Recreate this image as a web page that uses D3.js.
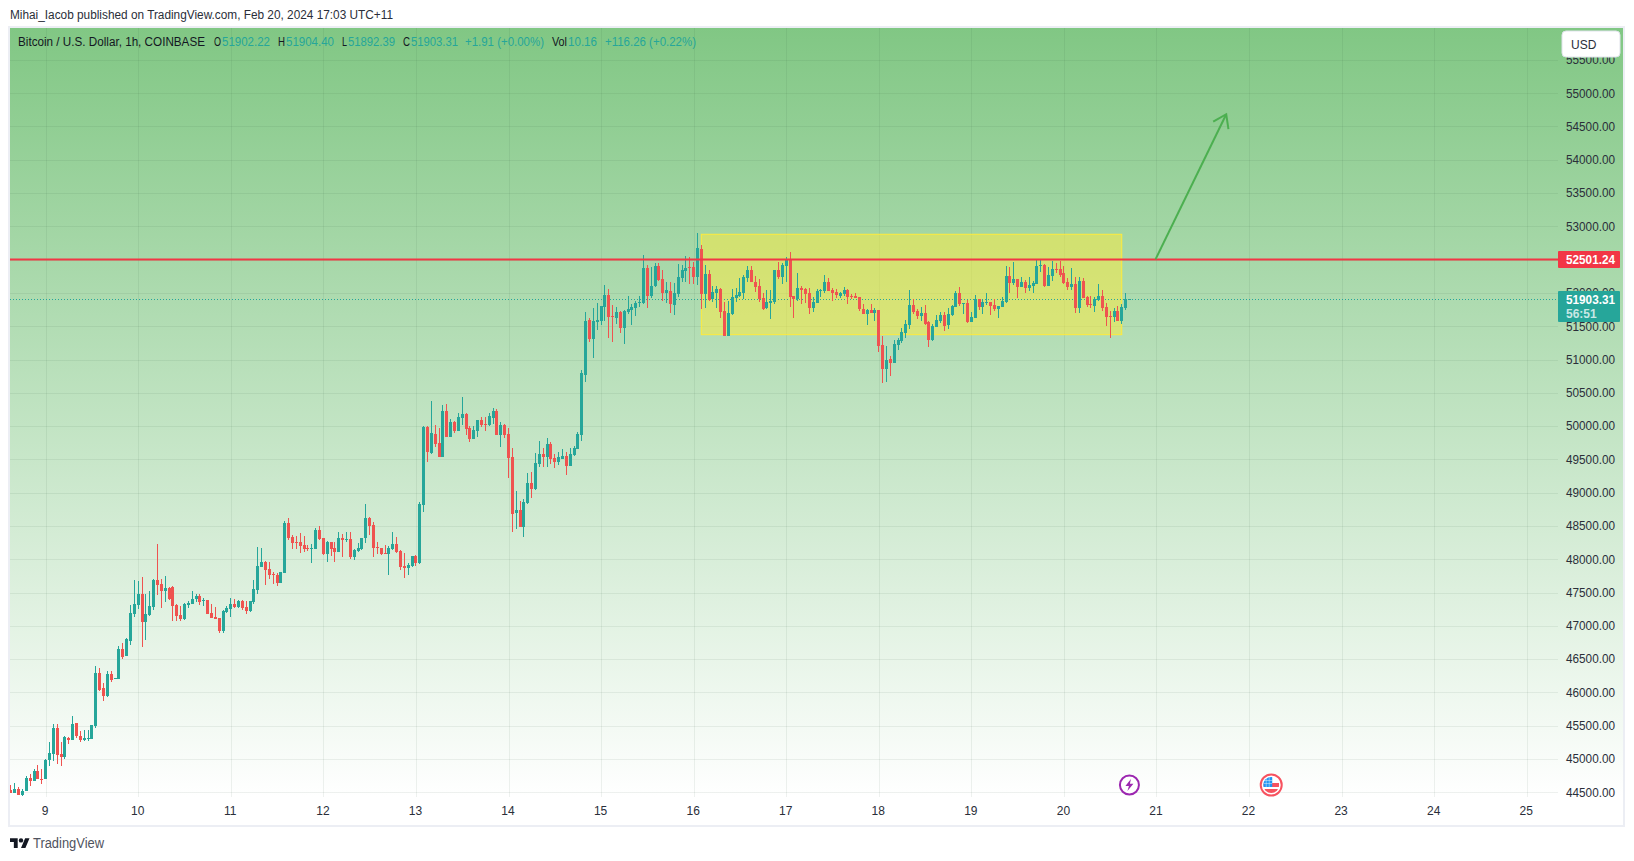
<!DOCTYPE html>
<html>
<head>
<meta charset="utf-8">
<script src="https://cdn.jsdelivr.net/npm/d3@7"></script>
<style>
  body { margin: 0; background: #fff; }
  svg { display: block; }
  text { font-family: "Liberation Sans", Arial, sans-serif; }
</style>
</head>
<body>
<svg id="chart" width="1634" height="861"></svg>
<script>
'use strict';

// hourly candles. first bar is 9 hours before the "9" tick
const opens = [
  44540,44485,44550,44465,44515,44715,44675,44825,44700,44695,
  44980,45080,45470,45075,45035,45315,45290,45540,45350,45280,
  45310,45305,45500,46295,46070,45945,46275,46200,46205,46655,
  46540,46775,47180,47315,47480,47065,47165,47290,47690,47630,
  47525,47575,47585,47315,47165,47105,47320,47330,47410,47450,
  47370,47385,47190,47135,47120,46925,47210,47255,47325,47280,
  47375,47285,47225,47360,47540,47890,47965,47855,47780,47765,
  47645,47795,48545,48340,48260,48260,48215,48165,48160,48155,
  48440,48320,48080,48260,48170,48110,48320,48290,48305,48035,
  48125,48155,48320,48620,48515,48185,48170,48095,48085,48155,
  48230,48130,47900,47870,47900,48050,47945,48820,49990,49600,
  49885,49750,49540,50230,49840,50065,49930,50125,50185,49975,
  49810,49930,50095,50035,50020,50125,50230,49870,50020,49885,
  49540,48700,48745,48490,48850,49150,49060,49435,49585,49540,
  49735,49525,49465,49510,49555,49405,49570,49660,49870,50770,
  51595,51310,51565,51580,51790,51970,51655,51625,51715,51475,
  51715,51745,51775,51850,51850,52381,51956,52111,52411,52211,
  52006,52031,51821,51986,52231,52331,52391,52391,52241,52661,
  51986,52286,51911,52001,52061,51731,51356,51686,51926,51956,
  52001,52226,52346,52166,52106,51926,51776,51851,51866,52346,
  52241,52406,52511,51956,51911,52076,52061,51999,51776,51851,
  52031,52031,52166,52046,52016,51956,51986,52046,51951,51956,
  51941,51761,51686,51746,51701,51746,51221,50861,51011,50951,
  51221,51281,51401,51521,51821,51731,51656,51701,51566,51296,
  51491,51581,51671,51521,51671,51791,52001,51836,51851,51566,
  51626,51911,51791,51851,51866,51821,51761,51791,51866,52256,
  52151,52211,52091,52166,52076,52106,52136,52406,52421,52106,
  52256,52361,52361,52301,52166,52091,52136,51776,52181,51941,
  51836,51806,51896,51956,51791,51656,51641,51731,51581,51776,51902.22
];
const highs = [
  44615,44640,44580,44555,44750,44780,44855,44915,44850,45005,
  45260,45520,45530,45260,45340,45330,45650,45540,45415,45430,
  45440,45515,46400,46365,46140,46315,46315,46215,46690,46740,
  46820,47310,47690,47680,47730,47480,47525,47705,48230,47705,
  47750,47585,47600,47330,47300,47340,47380,47525,47485,47475,
  47415,47390,47330,47280,47125,47240,47300,47420,47400,47390,
  47390,47370,47380,47690,48185,48170,47975,47960,47810,47800,
  47810,48575,48620,48365,48350,48395,48350,48215,48230,48470,
  48500,48325,48275,48260,48260,48410,48380,48410,48405,48155,
  48245,48320,48830,48635,48560,48260,48170,48215,48200,48410,
  48335,48140,48095,47945,48050,48065,48860,50005,50005,50380,
  50020,49975,50320,50335,50110,50080,50200,50440,50200,50005,
  50005,50095,50140,50140,50200,50275,50260,50065,50035,49975,
  49675,49030,48880,48910,49300,49315,49600,49780,49675,49825,
  49765,49585,49615,49660,49615,49675,49705,49915,50845,51715,
  51625,51775,51850,51805,52120,52060,51820,51790,51730,51745,
  51955,51835,51880,51955,52571,52420,52396,52446,52446,52346,
  52171,52161,52146,52431,52421,52556,52541,52466,52901,52721,
  52421,52346,52106,52106,52076,51866,51881,52061,52076,52226,
  52271,52406,52406,52256,52211,52001,52046,52046,52346,52466,
  52451,52541,52616,51956,52301,52106,52076,52076,51941,52061,
  52061,52271,52226,52076,52061,52016,52091,52061,51986,52001,
  51941,51836,51761,51836,51776,51746,51356,51206,51056,51296,
  51326,51476,51596,52046,51911,51761,51791,51821,51581,51536,
  51671,51716,51716,51776,51821,52031,52091,51851,51896,51716,
  51971,51911,51911,52001,51866,51911,51806,51941,52406,52391,
  52466,52211,52241,52196,52241,52181,52511,52511,52436,52391,
  52481,52451,52481,52406,52226,52376,52241,52241,52226,51956,
  51956,51941,52136,52046,51851,51731,51776,51806,51836,52001,51904.40
];
const lows = [
  44485,44485,44455,44440,44515,44600,44675,44695,44620,44695,
  44890,44965,44930,44900,45000,45230,45290,45310,45250,45265,
  45265,45305,45460,46025,45865,45935,46150,46200,46205,46505,
  46540,46705,47140,47255,46675,46780,47150,47240,47465,47270,
  47365,47390,47080,47080,47080,47090,47265,47330,47365,47320,
  47305,47180,47120,47110,46900,46900,47190,47135,47270,47270,
  47240,47185,47210,47330,47480,47880,47615,47700,47630,47600,
  47645,47795,48290,48155,48155,48095,48105,48125,47945,48155,
  48290,48070,47960,48050,47960,48110,48035,48260,48005,47990,
  48110,48140,48245,48365,48035,48080,48065,48080,47765,48140,
  48095,47840,47720,47765,47885,47900,47930,48705,49465,49585,
  49690,49540,49540,49840,49840,49900,49930,50020,49870,49765,
  49810,49840,49990,49930,50005,50035,49870,49690,49825,49225,
  48415,48460,48490,48340,48835,48925,49045,49390,49390,49390,
  49435,49375,49420,49510,49270,49405,49555,49660,49780,50665,
  51265,51025,51445,51520,51580,51325,51265,51535,51400,51235,
  51685,51520,51655,51790,51830,51780,51930,52096,52180,51880,
  51846,51696,51671,51946,52166,52166,52136,52136,52121,51761,
  51776,51881,51866,51776,51626,51356,51356,51671,51866,51941,
  51911,52166,52166,52016,51866,51746,51761,51611,51836,52211,
  52136,52166,51791,51626,51881,51836,51851,51686,51716,51851,
  51941,52001,52031,51881,51926,51926,51956,51836,51911,51926,
  51731,51686,51521,51701,51581,51116,50651,50666,50756,50951,
  51146,51251,51326,51461,51686,51611,51581,51521,51191,51281,
  51491,51551,51431,51461,51656,51791,51806,51686,51551,51566,
  51626,51746,51686,51821,51671,51731,51626,51791,51851,52001,
  52121,51926,52091,52001,52031,52001,52136,52316,52091,52106,
  52181,52301,52241,52136,52046,52046,51701,51701,51926,51791,
  51776,51716,51881,51731,51506,51326,51566,51581,51536,51746,51892.39
];
const closes = [
  44485,44555,44465,44525,44720,44675,44825,44695,44695,44990,
  45090,45470,45065,45035,45325,45290,45525,45340,45280,45315,
  45315,45515,46295,46040,45950,46280,46190,46215,46655,46535,
  46805,47190,47325,47480,47065,47175,47300,47690,47615,47530,
  47570,47400,47305,47155,47105,47325,47345,47405,47450,47365,
  47385,47185,47120,47110,46925,47225,47270,47330,47280,47375,
  47270,47225,47375,47555,47900,47960,47840,47765,47770,47645,
  47810,48545,48315,48245,48250,48200,48155,48150,48170,48440,
  48300,48080,48260,48155,48110,48320,48290,48305,48035,48140,
  48170,48320,48620,48500,48170,48170,48080,48085,48170,48230,
  48110,47885,47875,47915,48050,47945,48830,49990,49605,49900,
  49735,49540,50230,49840,50065,49930,50140,50185,49960,49810,
  49945,50095,50020,50020,50155,50230,49870,50020,49870,49525,
  48685,48745,48490,48865,49150,49060,49450,49585,49540,49735,
  49510,49465,49540,49555,49405,49585,49675,49885,50800,51580,
  51310,51580,51595,51805,51970,51640,51640,51715,51475,51730,
  51760,51790,51850,51865,52381,51956,52111,52411,52196,52006,
  52046,51841,51996,52246,52346,52376,52381,52241,52676,51986,
  52286,51896,52016,52061,51716,51356,51701,51941,51971,52016,
  52241,52346,52166,52091,51911,51761,51866,51881,52346,52241,
  52421,52511,51941,51911,52076,52046,51986,51776,51866,52031,
  52046,52166,52031,52001,51971,52001,52046,51941,51936,51926,
  51761,51686,51746,51701,51746,51206,50861,50996,50951,51236,
  51296,51416,51536,51821,51716,51656,51701,51536,51296,51506,
  51596,51671,51506,51686,51806,52001,51836,51851,51566,51641,
  51911,51791,51866,51866,51806,51761,51806,51881,52256,52151,
  52211,52091,52166,52076,52121,52151,52406,52421,52106,52271,
  52361,52346,52271,52151,52091,52136,51776,52181,51926,51821,
  51821,51911,51956,51776,51641,51641,51731,51581,51791,51902,51903.31
];

const dayTicks = [9,10,11,12,13,14,15,16,17,18,19,20,21,22,23,24,25];
const priceTicks = [44500,45000,45500,46000,46500,47000,47500,48000,48500,49000,49500,50000,
  50500,51000,51500,52000,52500,53000,53500,54000,54500,55000,55500];

const resistance = 52501.24;
const lastPrice = 51903.31;
const countdown = '56:51';

// drawing objects, day number + price
const zone = { day0: 16.083, day1: 20.625, price0: 51373, price1: 52881 };
const arrowLine = [[20.99, 52505], [21.754, 54684]];
const eventDays = { earnings: 20.708, usFlag: 22.24 };

const titleText = 'Mihai_Iacob published on TradingView.com, Feb 20, 2024 17:03 UTC+11';
// label, left edge, right edge
const legendDark = [['Bitcoin / U.S. Dollar, 1h, COINBASE', 18, 206], ['O', 214, 222], ['H', 278, 286], ['L', 342, 348], ['C', 403, 411], ['Vol', 552, 568]];
const legendTeal = [['51902.22', 222, 270], ['51904.40', 286, 334], ['51892.39', 348, 395], ['51903.31', 411, 458],
  ['+1.91 (+0.00%)', 465, 544], ['10.16', 568, 597], ['+116.26 (+0.22%)', 605, 696]];

const TEAL = '#26a69a', RED = '#ef5350', LINE_RED = '#f23645', INK = '#2a2e39';
const pane = { left: 10, right: 1558, top: 28, bottom: 797, axisRight: 1623 };

const svg = d3.select('#chart');
const defs = svg.append('defs');

const grad = defs.append('linearGradient').attr('id', 'bg').attr('x1', 0).attr('x2', 0).attr('y1', 0).attr('y2', 1);
grad.append('stop').attr('offset', 0).attr('stop-color', '#81c784');
grad.append('stop').attr('offset', 1).attr('stop-color', '#ffffff');

defs.append('clipPath').attr('id', 'paneClip').append('rect')
  .attr('x', pane.left).attr('y', pane.top)
  .attr('width', pane.right - pane.left).attr('height', pane.bottom - pane.top);

const x = d3.scaleLinear().domain([9, 25]).range([45.7, 1526.7]);
const y = d3.scaleLinear().domain([44500, 55000]).range([792.3, 93.2]);
const barDay = i => 9 + (i - 9) / 24;

svg.append('rect').attr('x', pane.left).attr('y', pane.top)
  .attr('width', pane.axisRight - pane.left).attr('height', pane.bottom - pane.top)
  .attr('fill', 'url(#bg)');

// grid
const gridColor = 'rgba(42,80,57,0.08)';
svg.append('g').attr('class', 'vgrid').selectAll('line').data(dayTicks).join('line')
  .attr('x1', d => Math.round(x(d)) + 0.5).attr('x2', d => Math.round(x(d)) + 0.5)
  .attr('y1', pane.top).attr('y2', pane.bottom)
  .attr('stroke', gridColor);
svg.append('g').attr('class', 'hgrid').selectAll('line').data(priceTicks).join('line')
  .attr('x1', pane.left).attr('x2', pane.right)
  .attr('y1', d => Math.round(y(d)) + 0.5).attr('y2', d => Math.round(y(d)) + 0.5)
  .attr('stroke', gridColor);

// axes
const priceAxis = d3.axisRight(y).tickValues(priceTicks).tickFormat(d3.format('.2f')).tickSize(0).tickPadding(8);
const gy = svg.append('g').attr('transform', `translate(${pane.right},0)`).call(priceAxis);
gy.select('.domain').remove();
gy.selectAll('text').attr('font-size', 12).attr('fill', INK).attr('textLength', 49).attr('lengthAdjust', 'spacingAndGlyphs')
  .style('font-family', '"Liberation Sans", Arial, sans-serif');

const timeAxis = d3.axisBottom(x).tickValues(dayTicks).tickFormat(d3.format('d')).tickSize(0).tickPadding(9);
const gx = svg.append('g').attr('transform', `translate(-1,${pane.bottom})`).call(timeAxis);
gx.select('.domain').remove();
gx.selectAll('text').attr('font-size', 12).attr('fill', INK).style('font-family', '"Liberation Sans", Arial, sans-serif');

// consolidation zone
svg.append('rect')
  .attr('x', x(zone.day0)).attr('width', x(zone.day1) - x(zone.day0))
  .attr('y', y(zone.price1)).attr('height', y(zone.price0) - y(zone.price1))
  .attr('fill', 'rgba(255,235,59,0.5)').attr('stroke', '#ffeb3b').attr('stroke-width', 1);

// last price dotted line
svg.append('line')
  .attr('x1', pane.left).attr('x2', pane.right)
  .attr('y1', Math.round(y(lastPrice)) + 0.5).attr('y2', Math.round(y(lastPrice)) + 0.5)
  .attr('stroke', TEAL).attr('stroke-dasharray', '1 2');

// candles
const candles = d3.range(opens.length);
const gc = svg.append('g').attr('clip-path', 'url(#paneClip)').attr('shape-rendering', 'crispEdges');
const candleColor = i => closes[i] >= opens[i] ? TEAL : RED;
gc.selectAll('.wick').data(candles).join('rect').attr('class', 'wick')
  .attr('x', i => Math.round(x(barDay(i)) - 0.5)).attr('width', 1)
  .attr('y', i => y(highs[i])).attr('height', i => Math.max(1, y(lows[i]) - y(highs[i])))
  .attr('fill', candleColor);
gc.selectAll('.body').data(candles).join('rect').attr('class', 'body')
  .attr('x', i => Math.round(x(barDay(i)) - 0.5) - 1).attr('width', 3)
  .attr('y', i => y(Math.max(opens[i], closes[i])))
  .attr('height', i => Math.max(1, Math.abs(y(opens[i]) - y(closes[i]))))
  .attr('fill', candleColor);

// resistance
svg.append('line')
  .attr('x1', pane.left).attr('x2', pane.right)
  .attr('y1', y(resistance)).attr('y2', y(resistance))
  .attr('stroke', LINE_RED).attr('stroke-width', 2);

// arrow
const [from, to] = arrowLine.map(d => [x(d[0]), y(d[1])]);
const angle = Math.atan2(to[1] - from[1], to[0] - from[0]);
const barb = a => [to[0] - 15 * Math.cos(angle + a), to[1] - 15 * Math.sin(angle + a)];
const arrow = svg.append('g').attr('fill', 'none').attr('stroke', '#4caf50').attr('stroke-width', 2);
arrow.append('path').attr('d', d3.line()([from, to]));
arrow.append('path').attr('d', d3.line()([barb(-0.6), to, barb(0.6)]));

// event icons
const iconY = 785;
const ev = svg.append('g').attr('transform', `translate(${x(eventDays.earnings)},${iconY})`);
ev.append('circle').attr('r', 9.5).attr('fill', '#fff').attr('stroke', '#9c27b0').attr('stroke-width', 2);
ev.append('path').attr('d', 'M1.5,-6 L-4,1 L-0.5,1 L-2,6 L4,-1.2 L0.5,-1.2 Z').attr('fill', '#9c27b0');

const flag = svg.append('g').attr('transform', `translate(${x(eventDays.usFlag)},${iconY})`);
defs.append('clipPath').attr('id', 'flagClip').append('circle').attr('r', 8);
flag.append('circle').attr('r', 10.5).attr('fill', '#fff').attr('stroke', '#f7525f').attr('stroke-width', 2);
const flagInner = flag.append('g').attr('clip-path', 'url(#flagClip)');
flagInner.append('rect').attr('x', -8).attr('y', -8).attr('width', 16).attr('height', 16).attr('fill', '#fff');
flagInner.append('rect').attr('x', -8).attr('y', -2).attr('width', 16).attr('height', 4).attr('fill', '#f7525f');
flagInner.append('rect').attr('x', -8).attr('y', 4).attr('width', 16).attr('height', 4).attr('fill', '#f7525f');
flagInner.append('rect').attr('x', -8).attr('y', -8).attr('width', 9).attr('height', 10).attr('fill', '#2196f3');
// canton grid
flagInner.append('path').attr('d', 'M-8,-4.5H1M-8,-1.5H1M-5,-8V2M-2,-8V2')
  .attr('stroke', 'rgba(255,255,255,0.6)').attr('stroke-width', 0.7);

// price labels on the axis
svg.append('rect').attr('x', pane.right).attr('width', 62)
  .attr('y', y(resistance) - 8.5).attr('height', 17).attr('rx', 1).attr('fill', LINE_RED);
svg.append('text').attr('x', pane.right + 8).attr('y', y(resistance) + 4.5)
  .attr('font-size', 12).attr('font-weight', 700).attr('fill', '#fff').attr('textLength', 49).attr('lengthAdjust', 'spacingAndGlyphs')
  .text(d3.format('.2f')(resistance));

svg.append('rect').attr('x', pane.right).attr('width', 62)
  .attr('y', y(lastPrice) - 8.5).attr('height', 31).attr('rx', 1).attr('fill', TEAL);
svg.append('text').attr('x', pane.right + 8).attr('y', y(lastPrice) + 4.5)
  .attr('font-size', 12).attr('font-weight', 700).attr('fill', '#fff').attr('textLength', 49).attr('lengthAdjust', 'spacingAndGlyphs')
  .text(d3.format('.2f')(lastPrice));
svg.append('text').attr('x', pane.right + 8).attr('y', y(lastPrice) + 18.5)
  .attr('font-size', 12).attr('font-weight', 700).attr('fill', 'rgba(255,255,255,0.75)').text(countdown);

// USD button
svg.append('rect').attr('x', 1562).attr('y', 31).attr('width', 58).attr('height', 26).attr('rx', 4)
  .attr('fill', '#fff').attr('stroke', '#e0e3eb');
svg.append('text').attr('x', 1571).attr('y', 48.5).attr('font-size', 12).attr('fill', INK).text('USD');

// frame
svg.append('rect').attr('x', 9).attr('y', 27).attr('width', 1615).attr('height', 799)
  .attr('fill', 'none').attr('stroke', '#eceef4').attr('stroke-width', 2);

// header + legend
svg.append('text').attr('x', 10).attr('y', 19).attr('font-size', 12).attr('fill', INK)
  .attr('textLength', 383).attr('lengthAdjust', 'spacingAndGlyphs').text(titleText);
svg.append('g').selectAll('text').data(legendDark).join('text')
  .attr('x', d => d[1]).attr('y', 46).attr('font-size', 12).attr('fill', '#131722')
  .attr('textLength', d => d[2] - d[1] - 1).attr('lengthAdjust', 'spacingAndGlyphs').text(d => d[0]);
svg.append('g').selectAll('text').data(legendTeal).join('text')
  .attr('x', d => d[1]).attr('y', 46).attr('font-size', 12).attr('fill', TEAL)
  .attr('textLength', d => d[2] - d[1]).attr('lengthAdjust', 'spacingAndGlyphs').text(d => d[0]);

// tradingview logo
const logo = svg.append('g').attr('transform', 'translate(10,836) scale(0.55)').attr('fill', '#131722');
logo.append('path').attr('d', 'M14 22H7V11H0V4h14v18zM28 22h-8l7.5-18h8L28 22z');
logo.append('circle').attr('cx', 20).attr('cy', 8).attr('r', 4);
svg.append('text').attr('x', 33).attr('y', 848).attr('font-size', 14).attr('fill', '#50535e')
  .attr('textLength', 71).attr('lengthAdjust', 'spacingAndGlyphs').text('TradingView');
</script>
</body>
</html>
